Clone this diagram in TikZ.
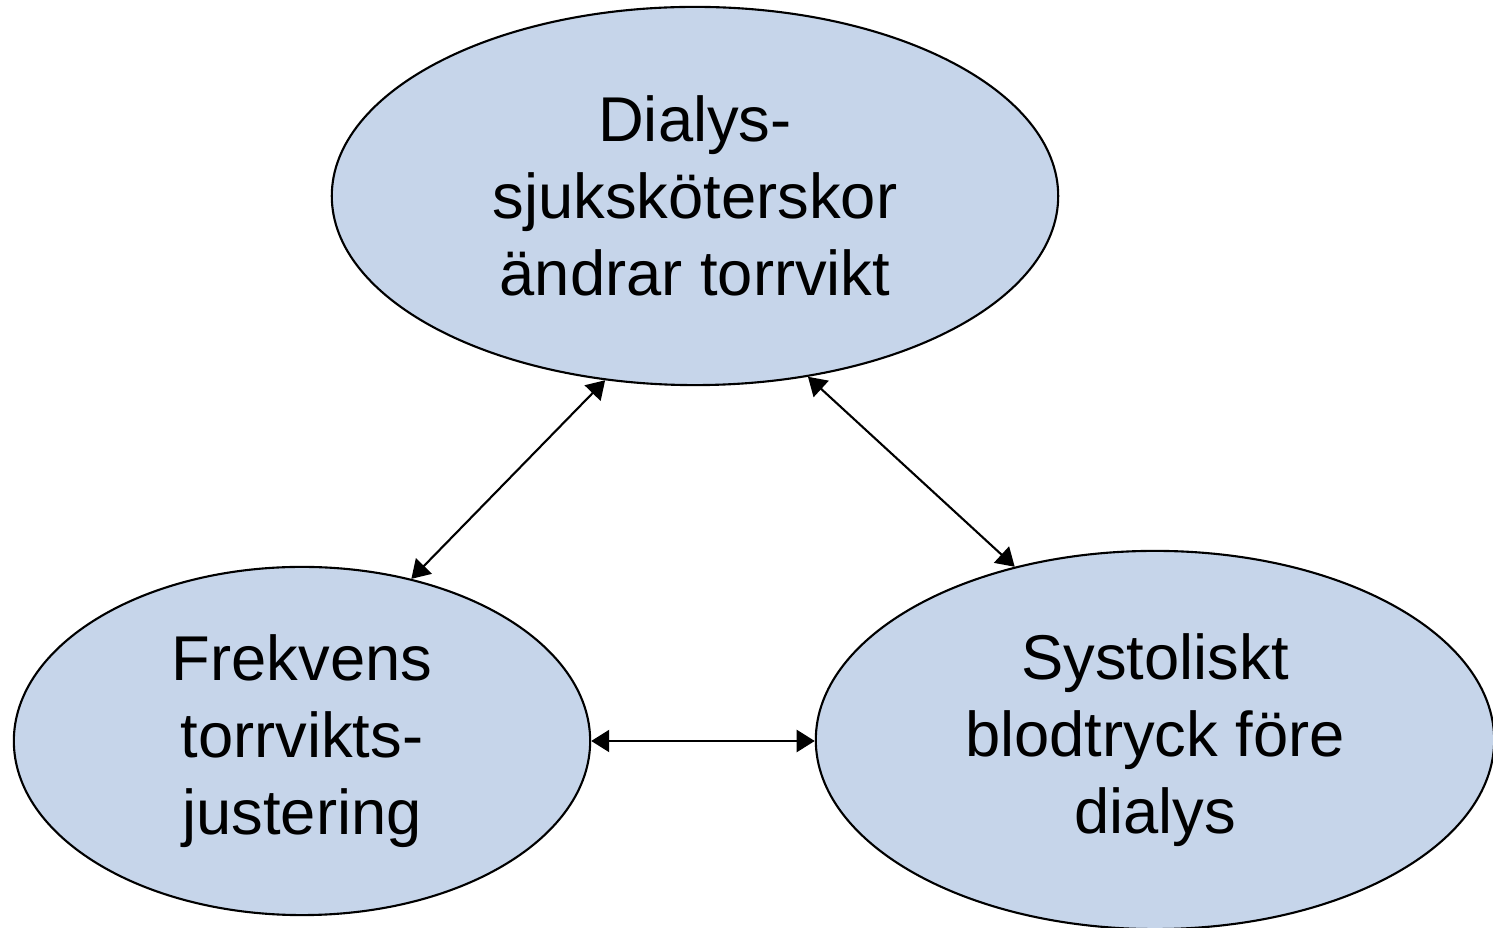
\documentclass[tikz,border=0pt]{standalone}
\usepackage{fontspec}
\setmainfont{Liberation Sans}
\usetikzlibrary{shapes.geometric}
\usetikzlibrary{arrows.meta}

\begin{document}
\begin{tikzpicture}[x=0.01cm,y=-0.01cm,
	factor/.style={ellipse, draw=black, line width=0.6pt, fill=ellfill, inner sep=0pt,
		align=center, font=\fontsize{18}{21.8}\selectfont},
	link/.style={{Triangle[length=0.18cm,width=0.22cm]}-{Triangle[length=0.18cm,width=0.22cm]}, line width=0.6pt}]

	% colours
	\definecolor{ellfill}{RGB}{198,213,234}
	\useasboundingbox (0,0) rectangle (1493,928);

	% the three factors
	\node[factor, minimum width=7.26cm, minimum height=3.78cm] (nurse) at (695,196)
		{Dialys-\\sjuksköterskor\\ändrar torrvikt};
	\node[factor, minimum width=5.76cm, minimum height=3.48cm] (freq) at (302,741)
		{Frekvens\\torrvikts-\\justering};
	\node[factor, minimum width=6.78cm, minimum height=3.78cm] (bp) at (1155,740)
		{Systoliskt\\blodtryck före\\dialys};

	% links between them
	\draw[link] (nurse.244) -- (freq.56);
	\draw[link] (nurse.302) -- (bp.129);
	\draw[link] (freq.east) -- (freq.east -| bp.west);

\end{tikzpicture}
\end{document}
